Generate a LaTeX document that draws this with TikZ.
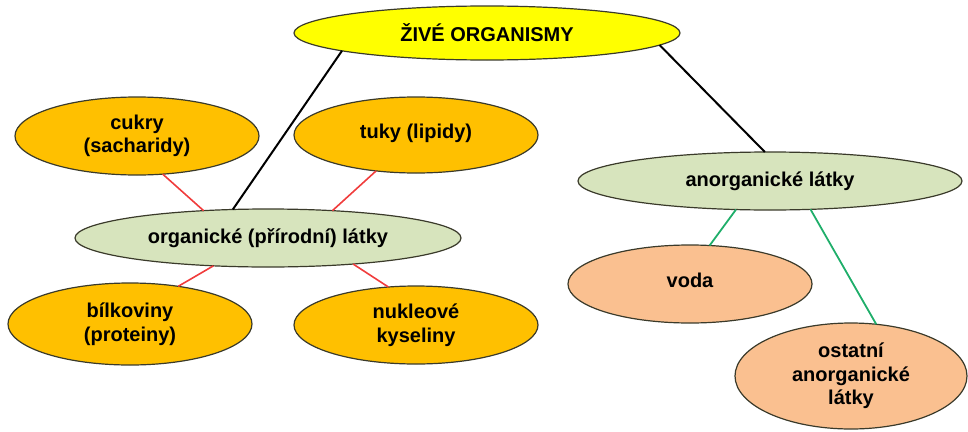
\documentclass[tikz,border=0pt]{standalone}
\usepackage{fontspec}
\setmainfont{Liberation Sans}
\usetikzlibrary{shapes.geometric}
\definecolor{yel}{HTML}{FFFF00}
\definecolor{orng}{HTML}{FFC000}
\definecolor{lgreen}{HTML}{D7E4BD}
\definecolor{peach}{HTML}{FAC090}
\definecolor{bord}{HTML}{3A3A2A}
\definecolor{redline}{HTML}{F03C3C}
\definecolor{greenline}{HTML}{1FAE6A}
\tikzset{
  x=1pt, y=-1pt,
  ell/.style={ellipse, draw=bord, line width=1.2pt, inner sep=0pt, outer sep=0pt,
    align=center, font=\fontsize{20}{23.5}\selectfont\bfseries},
  blackline/.style={draw=black, line width=2pt},
  redl/.style={draw=redline, line width=1.6pt},
  greenl/.style={draw=greenline, line width=1.8pt},
}
\begin{document}
\begin{tikzpicture}
\useasboundingbox (0,0) rectangle (968,431);
\node[ell, fill=yel, minimum width=386pt, minimum height=54pt] (top) at (487,33) {ŽIVÉ ORGANISMY};
\node[ell, fill=orng, minimum width=244pt, minimum height=78pt] (cukry) at (137,136) {cukry\\(sacharidy)};
\node[ell, fill=orng, minimum width=244pt, minimum height=76pt] (tuky) at (416,135) {\raisebox{7pt}{tuky (lipidy)}};
\node[ell, fill=lgreen, minimum width=386pt, minimum height=58pt] (org) at (268,238) {organické (přírodní) látky};
\node[ell, fill=orng, minimum width=244pt, minimum height=82pt] (bilk) at (130,324) {bílkoviny\\(proteiny)};
\node[ell, fill=orng, minimum width=244pt, minimum height=78pt] (nukl) at (416,325) {nukleové\\kyseliny};
\node[ell, fill=lgreen, minimum width=384pt, minimum height=58pt] (anorg) at (770,181) {anorganické látky};
\node[ell, fill=peach, minimum width=244pt, minimum height=78pt] (voda) at (690,284) {\raisebox{8pt}{voda}};
\node[ell, fill=peach, minimum width=232pt, minimum height=106pt] (ost) at (851,376) {ostatní\\anorganické\\látky};

\draw[blackline] (top.187) -- (org.141);
\draw[blackline] (top.356.8) -- (anorg.100);
\draw[redl] (cukry.304) -- (org.157);
\draw[redl] (tuky.222) -- (org.23);
\draw[redl] (org.207) -- (bilk.38.5);
\draw[redl] (org.343) -- (nukl.126.4);
\draw[greenl] (anorg.220) -- (voda.63);
\draw[greenl] (anorg.325) -- (ost.64);
\end{tikzpicture}
\end{document}
